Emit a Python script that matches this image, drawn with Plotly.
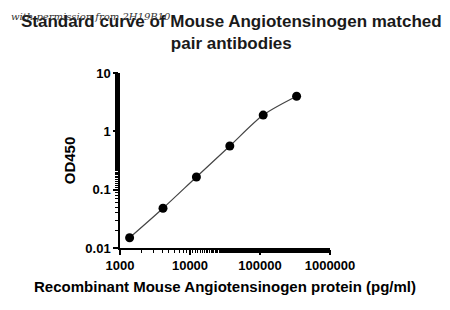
import plotly.graph_objects as go

concentration = [1372, 4115, 12346, 37037, 111111, 333333]
od450 = [0.0150, 0.0480, 0.165, 0.56, 1.9, 4.0]

x_tickvals = [1000, 10000, 100000, 1000000]
x_ticktext = ["1000", "10000", "100000", "1000000"]
y_tickvals = [0.01, 0.1, 1, 10]
y_ticktext = ["0.01", "0.1", "1", "10"]

title_text = "Standard curve of Mouse Angiotensinogen matched<br>pair antibodies"
x_title = "Recombinant Mouse Angiotensinogen protein (pg/ml)"
y_title = "OD450"
watermark = "with permission from 2H19B10"

FONT = "Liberation Sans, Arial, sans-serif"

fig = go.Figure()
fig.add_trace(go.Scatter(
    x=concentration, y=od450, mode="lines",
    line=dict(color="#444444", width=1.2, shape="spline", smoothing=0.8),
    showlegend=False, hoverinfo="skip"))
fig.add_trace(go.Scatter(
    x=concentration, y=od450, mode="markers",
    marker=dict(color="black", size=9),
    showlegend=False))

axis_common = dict(
    showline=True, linecolor="black", linewidth=1.5,
    ticks="outside", ticklen=5, tickwidth=1.5, tickcolor="black",
    showgrid=False, zeroline=False,
    tickfont=dict(family=FONT, size=13, color="black", weight="bold"),
    minor=dict(ticks="outside", ticklen=3, tickwidth=1, tickcolor="black", showgrid=False),
)

fig.update_xaxes(type="log", range=[3, 6], tickvals=x_tickvals, ticktext=x_ticktext,
                 title=dict(text=x_title, standoff=9,
                            font=dict(family=FONT, size=15, color="black", weight="bold")),
                 **axis_common)
fig.update_yaxes(type="log", range=[-2, 1], tickvals=y_tickvals, ticktext=y_ticktext,
                 title=dict(text=y_title, standoff=6,
                            font=dict(family=FONT, size=15, color="black", weight="bold")),
                 **axis_common)

fig.update_layout(
    width=450, height=310,
    margin=dict(l=120, r=120, t=73, b=62),
    paper_bgcolor="white", plot_bgcolor="white",
)
fig.add_annotation(text=title_text, xref="paper", yref="paper", x=0.53, y=1.23,
                   xanchor="center", yanchor="middle", showarrow=False,
                   font=dict(family=FONT, size=17, color="#1a1a1a", weight="bold"))
fig.add_annotation(text=watermark, xref="paper", yref="paper", x=-0.53, y=1.325,
                   xanchor="left", yanchor="middle", showarrow=False,
                   font=dict(family="DejaVu Serif, serif", size=10, color="#333333", style="italic"))

fig.write_html("out.html")
